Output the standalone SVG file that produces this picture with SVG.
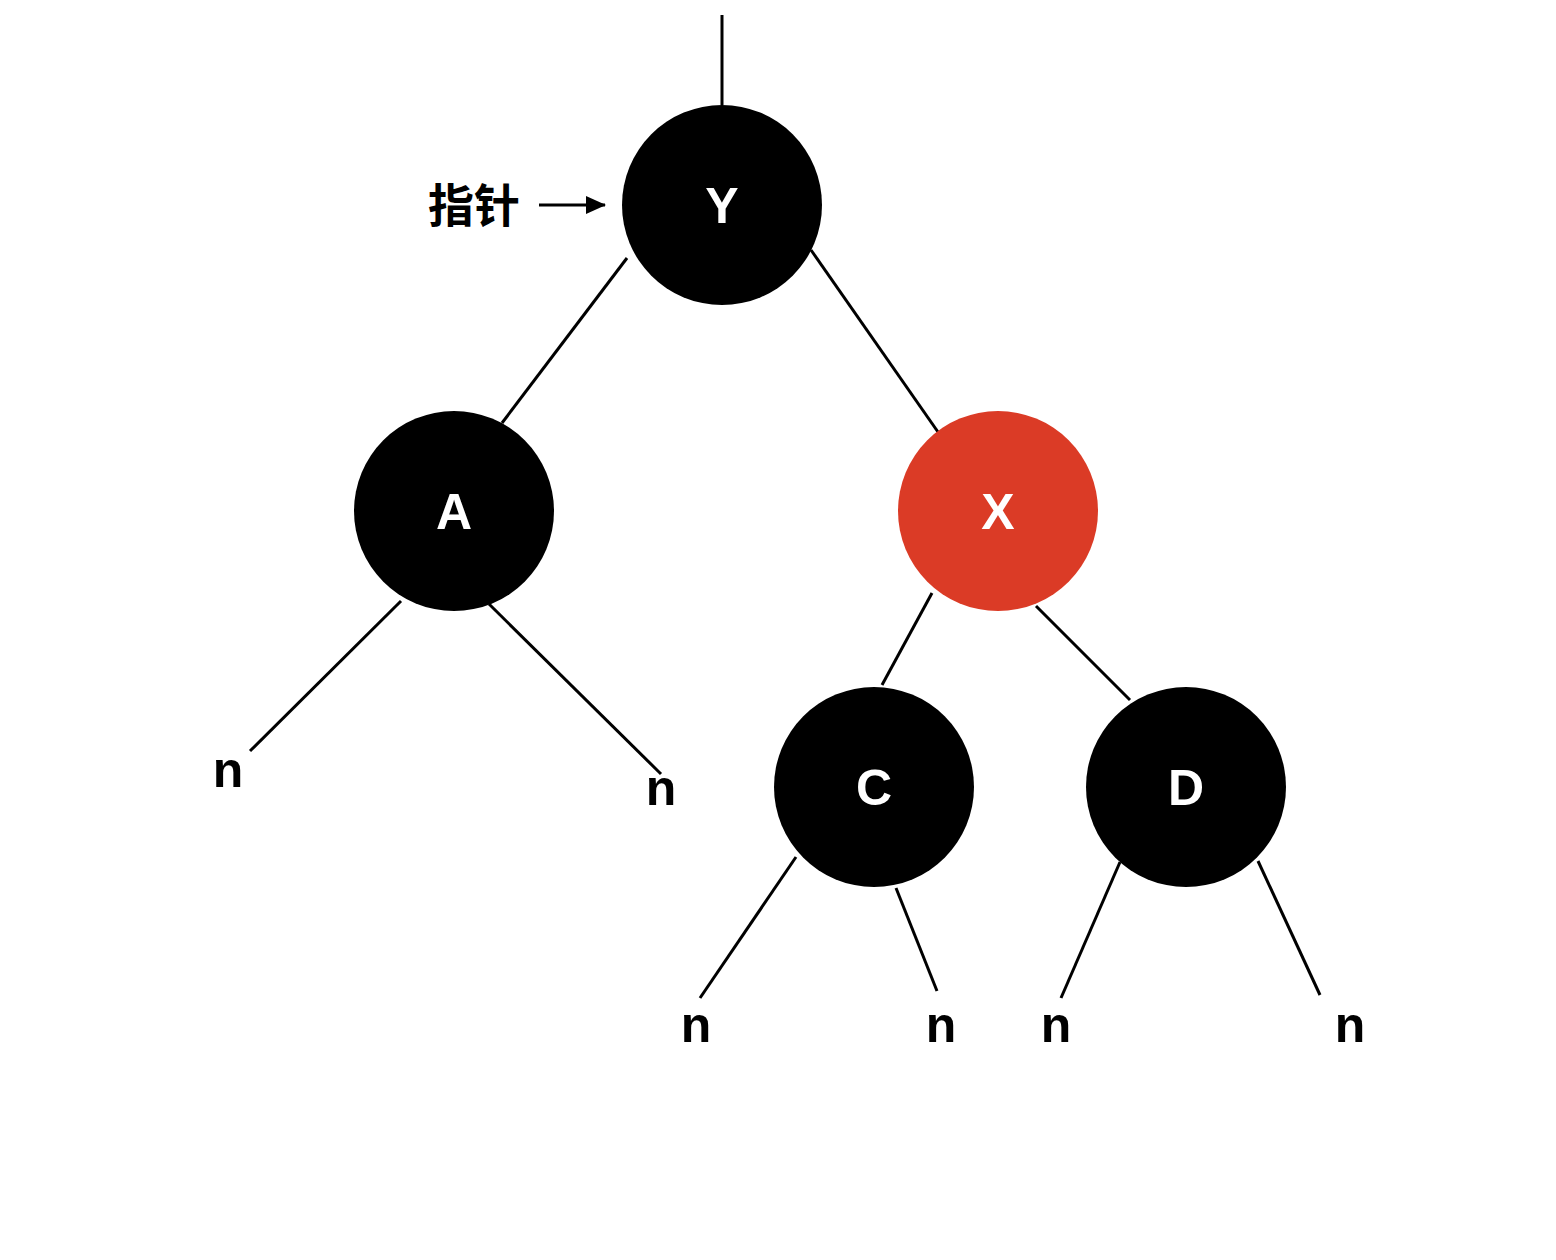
<svg xmlns="http://www.w3.org/2000/svg" width="1556" height="1260" viewBox="0 0 1556 1260">
<defs>
<style>
.edge{stroke:#000;stroke-width:3;fill:none;stroke-linecap:butt}
.node{stroke:none}
.black{fill:#000}
.red{fill:#DB3B26}
.lbl{font-family:"Liberation Sans",Arial,sans-serif;font-weight:bold;font-size:50px;fill:#fff;text-anchor:middle}
.nil{font-family:"Liberation Sans",Arial,sans-serif;font-weight:bold;font-size:50px;fill:#000;text-anchor:middle}
.cjk{font-family:"Noto Sans CJK SC","Noto Sans",sans-serif;font-weight:bold;font-size:46px;fill:#000;text-anchor:middle}
</style>
<marker id="arr" viewBox="0 0 20 20" refX="19" refY="10" markerWidth="20" markerHeight="20" markerUnits="userSpaceOnUse" orient="auto">
<path d="M0,1 L20,10 L0,19 Z" fill="#000"/>
</marker>
</defs>
<rect width="1556" height="1260" fill="#fff"/>
<g id="connectors">
<line class="edge" x1="722" y1="15" x2="722" y2="105"/>
<line class="edge" x1="627" y1="258" x2="502" y2="423"/>
<line class="edge" x1="811" y1="250" x2="938" y2="432"/>
<line class="edge" x1="401" y1="601" x2="250" y2="751"/>
<line class="edge" x1="489" y1="604" x2="661" y2="774"/>
<line class="edge" x1="932" y1="593" x2="882" y2="685"/>
<line class="edge" x1="1036" y1="606" x2="1130" y2="700"/>
<line class="edge" x1="796" y1="857" x2="700" y2="998"/>
<line class="edge" x1="896" y1="888" x2="937" y2="991"/>
<line class="edge" x1="1120" y1="862" x2="1061" y2="998"/>
<line class="edge" x1="1258" y1="861" x2="1320" y2="995"/>
<line class="edge" x1="539" y1="205" x2="605" y2="205" marker-end="url(#arr)"/>
</g>
<g id="pointer-label"><text class="cjk" x="474" y="222">指针</text></g>
<g id="node-Y"><circle class="node black" cx="722" cy="205" r="100"/><text class="lbl" x="722" y="223">Y</text></g>
<g id="node-A"><circle class="node black" cx="454" cy="511" r="100"/><text class="lbl" x="454" y="529">A</text></g>
<g id="node-X"><circle class="node red" cx="998" cy="511" r="100"/><text class="lbl" x="998" y="529">X</text></g>
<g id="node-C"><circle class="node black" cx="874" cy="787" r="100"/><text class="lbl" x="874" y="805">C</text></g>
<g id="node-D"><circle class="node black" cx="1186" cy="787" r="100"/><text class="lbl" x="1186" y="805">D</text></g>
<g id="nil-1"><text class="nil" x="228" y="787">n</text></g>
<g id="nil-2"><text class="nil" x="661" y="805">n</text></g>
<g id="nil-3"><text class="nil" x="696" y="1042">n</text></g>
<g id="nil-4"><text class="nil" x="941" y="1042">n</text></g>
<g id="nil-5"><text class="nil" x="1056" y="1042">n</text></g>
<g id="nil-6"><text class="nil" x="1350" y="1042">n</text></g>
</svg>
